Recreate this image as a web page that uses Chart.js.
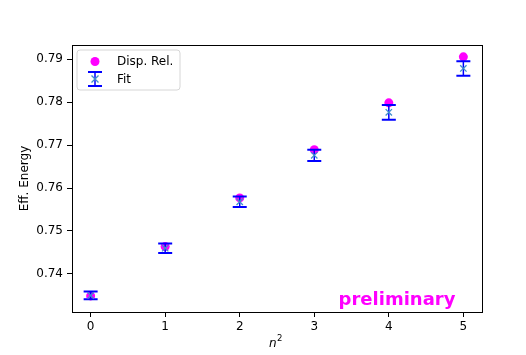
<!DOCTYPE html>
<html>
<head>
<meta charset="utf-8">
<script src="https://cdn.jsdelivr.net/npm/chart.js@4/dist/chart.umd.min.js"></script>
<style>
  html, body { margin: 0; padding: 0; background: #fff; }
  canvas { display: block; }
</style>
</head>
<body>
<canvas id="effChart" width="526" height="355"></canvas>
<script>
// momentum squared values
const nSquared = [0, 1, 2, 3, 4, 5];
// dispersion relation prediction
const dispRel = [0.7349, 0.7464, 0.7577, 0.7689, 0.7798, 0.7905];
// fitted effective energies and their errors
const fitEnergy = [0.7350, 0.7460, 0.7568, 0.7676, 0.7776, 0.7878];
const fitError = [0.0009, 0.0011, 0.0012, 0.0013, 0.0017, 0.0017];
// tick labels
const xTicks = [0, 1, 2, 3, 4, 5];
const yTicks = [0.74, 0.75, 0.76, 0.77, 0.78, 0.79];

const FONT = '"DejaVu Sans", sans-serif';
const ERR_BLUE = '#0000ff';
const FIT_BLUE = '#3f8fce';
const MAGENTA = '#ff00ff';

// error bars for the fit, drawn right after the dispersion points
const errorBars = {
    id: 'errorBars',
    afterDatasetDraw(chart, args) {
        if (args.index !== 0) return;
        const ctx = chart.ctx;
        const xs = chart.scales.x, ys = chart.scales.y;
        ctx.save();
        ctx.strokeStyle = ERR_BLUE;
        nSquared.forEach((n, i) => {
            const px = xs.getPixelForValue(n);
            const top = ys.getPixelForValue(fitEnergy[i] + fitError[i]);
            const bot = ys.getPixelForValue(fitEnergy[i] - fitError[i]);
            ctx.lineWidth = 1.5;
            ctx.beginPath();
            ctx.moveTo(px, top);
            ctx.lineTo(px, bot);
            ctx.stroke();
            ctx.lineWidth = 2;
            ctx.beginPath();
            ctx.moveTo(px - 7, top);
            ctx.lineTo(px + 7, top);
            ctx.moveTo(px - 7, bot);
            ctx.lineTo(px + 7, bot);
            ctx.stroke();
        });
        ctx.restore();
    }
};

// frame, legend, axis labels and watermark
const decorations = {
    id: 'decorations',
    afterDraw(chart) {
        const ctx = chart.ctx;
        const a = chart.chartArea;
        ctx.save();

        ctx.strokeStyle = '#000';
        ctx.lineWidth = 1;
        ctx.strokeRect(Math.round(a.left) + 0.5, Math.round(a.top) + 0.5,
            Math.round(a.right - a.left), Math.round(a.bottom - a.top));

        // legend box
        const lx = 77, ly = 50, lw = 103, lh = 40, r = 3;
        ctx.beginPath();
        ctx.moveTo(lx + r, ly);
        ctx.arcTo(lx + lw, ly, lx + lw, ly + lh, r);
        ctx.arcTo(lx + lw, ly + lh, lx, ly + lh, r);
        ctx.arcTo(lx, ly + lh, lx, ly, r);
        ctx.arcTo(lx, ly, lx + lw, ly, r);
        ctx.closePath();
        ctx.fillStyle = 'rgba(255,255,255,0.8)';
        ctx.fill();
        ctx.strokeStyle = '#d6d6d6';
        ctx.lineWidth = 1;
        ctx.stroke();

        ctx.fillStyle = MAGENTA;
        ctx.beginPath();
        ctx.arc(95, 61.5, 4.5, 0, Math.PI * 2);
        ctx.fill();

        const ex = 95, ey = 79;
        ctx.strokeStyle = ERR_BLUE;
        ctx.lineWidth = 1.5;
        ctx.beginPath();
        ctx.moveTo(ex, ey - 7);
        ctx.lineTo(ex, ey + 7);
        ctx.stroke();
        ctx.lineWidth = 2;
        ctx.beginPath();
        ctx.moveTo(ex - 7, ey - 7);
        ctx.lineTo(ex + 7, ey - 7);
        ctx.moveTo(ex - 7, ey + 7);
        ctx.lineTo(ex + 7, ey + 7);
        ctx.stroke();
        ctx.strokeStyle = FIT_BLUE;
        ctx.lineWidth = 1.3;
        ctx.beginPath();
        ctx.moveTo(ex - 3.5, ey - 3.5);
        ctx.lineTo(ex + 3.5, ey + 3.5);
        ctx.moveTo(ex - 3.5, ey + 3.5);
        ctx.lineTo(ex + 3.5, ey - 3.5);
        ctx.stroke();

        ctx.fillStyle = '#000';
        ctx.font = '12px ' + FONT;
        ctx.textAlign = 'left';
        ctx.textBaseline = 'middle';
        ctx.fillText('Disp. Rel.', 117, 61.5);
        ctx.fillText('Fit', 117, 79.5);

        // y axis title
        ctx.save();
        ctx.translate(25, (a.top + a.bottom) / 2);
        ctx.rotate(-Math.PI / 2);
        ctx.textAlign = 'center';
        ctx.fillText('Eff. Energy', 0, 0);
        ctx.restore();

        // x axis title: n^2
        ctx.textBaseline = 'alphabetic';
        ctx.font = 'italic 12px ' + FONT;
        ctx.fillText('n', 269, 347);
        ctx.font = '8.5px ' + FONT;
        ctx.fillText('2', 277, 341);

        ctx.fillStyle = MAGENTA;
        ctx.font = 'bold 18px ' + FONT;
        ctx.textAlign = 'center';
        ctx.fillText('preliminary', 397, 305);

        ctx.restore();
    }
};

new Chart(document.getElementById('effChart'), {
    type: 'scatter',
    data: {
        datasets: [
            {
                label: 'Disp. Rel.',
                data: nSquared.map((n, i) => ({ x: n, y: dispRel[i] })),
                pointStyle: 'circle',
                pointRadius: 4.5,
                backgroundColor: MAGENTA,
                borderColor: MAGENTA,
                borderWidth: 0,
                order: 2
            },
            {
                label: 'Fit',
                data: nSquared.map((n, i) => ({ x: n, y: fitEnergy[i] })),
                pointStyle: 'crossRot',
                pointRadius: 4.5,
                borderColor: FIT_BLUE,
                backgroundColor: FIT_BLUE,
                borderWidth: 1.3,
                order: 1
            }
        ]
    },
    options: {
        responsive: false,
        animation: false,
        events: [],
        layout: { padding: { left: 0, top: 45, right: 44, bottom: 0 } },
        plugins: { legend: { display: false }, tooltip: { enabled: false } },
        scales: {
            x: {
                type: 'linear',
                min: -0.25,
                max: 5.25,
                afterBuildTicks: s => { s.ticks = xTicks.map(v => ({ value: v })); },
                afterFit: s => { s.height = 43; },
                grid: { drawOnChartArea: false, drawTicks: true, tickLength: 5, color: '#000' },
                border: { display: true, color: '#000', width: 1 },
                ticks: { color: '#000', font: { family: FONT, size: 12 }, padding: 3, callback: v => String(v) }
            },
            y: {
                type: 'linear',
                min: 0.73116,
                max: 0.79326,
                afterBuildTicks: s => { s.ticks = yTicks.map(v => ({ value: v })); },
                afterFit: s => { s.width = 72; },
                grid: { drawOnChartArea: false, drawTicks: true, tickLength: 5, color: '#000' },
                border: { display: true, color: '#000', width: 1 },
                ticks: { color: '#000', font: { family: FONT, size: 12 }, padding: 4, callback: v => v.toFixed(2) }
            }
        }
    },
    plugins: [errorBars, decorations]
});
</script>
</body>
</html>
